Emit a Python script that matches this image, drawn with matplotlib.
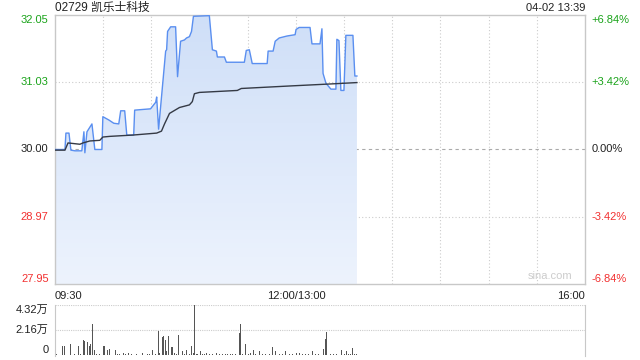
import numpy as np
import matplotlib
matplotlib.use('Agg')
import matplotlib.pyplot as plt

plt.rcParams['font.family'] = ['Liberation Sans', 'Noto Sans CJK SC', 'DejaVu Sans']

# ============================================================
# DADOS — minutos de pregão desde 09:30 (almoço removido)
# ============================================================
PRECO_BASE = 30.00
Y_MIN, Y_MAX = 27.95, 32.05

preco_min = [0, 6.2, 6.8, 8.7, 9.9, 12.4, 16.7, 18.0, 18.6, 19.9, 23.0, 24.8,
             29.2, 29.8, 33.5, 36.6, 39.7, 40.9, 43.4, 44.7, 49.0, 49.6, 59.5,
             61.4, 62.7, 63.3, 64.5, 68.9, 69.5, 70.1, 72.0, 75.1, 76.3, 78.2,
             80.6, 81.9, 83.7, 85.0, 86.2, 96.1, 98.0, 100.5, 101.1, 105.5,
             106.7, 117.9, 119.1, 121.0, 122.8, 132.1, 132.7, 135.8, 137.1,
             139.6, 144.5, 149.5, 150.1, 152.0, 158.8, 160.0, 165.0, 166.2,
             166.9, 168.7, 171.8, 174.9, 175.5, 176.8, 178.0, 179.9, 181.1,
             185.5, 186.7, 188.0]
preco = [30.00, 30.00, 30.25, 30.25, 29.99, 29.98, 29.98, 30.27, 29.95, 30.27,
         30.39, 30.00, 30.00, 30.50, 30.45, 30.40, 30.39, 30.59, 30.59, 30.22,
         30.22, 30.60, 30.62, 30.68, 30.72, 30.80, 30.31, 31.50, 31.52, 31.80,
         31.87, 31.87, 31.11, 31.65, 31.67, 31.70, 31.72, 31.80, 32.03, 32.04,
         31.52, 31.50, 31.41, 31.41, 31.33, 31.33, 31.51, 31.52, 31.31, 31.31,
         31.50, 31.50, 31.65, 31.70, 31.73, 31.75, 31.83, 31.86, 31.86, 31.61,
         31.61, 31.84, 31.16, 31.01, 30.92, 30.92, 31.68, 31.66, 30.90, 30.90,
         31.74, 31.74, 31.12, 31.12]

media_min = [0, 6.2, 8.1, 15.5, 17.4, 21.7, 27.9, 29.8, 34.1, 48.4, 63.3,
             66.3, 68.2, 71.3, 77.5, 83.7, 85.5, 86.8, 89.9, 113.5, 116.0,
             147.6, 172.4, 188.0]
media = [29.99, 29.99, 30.10, 30.08, 30.10, 30.13, 30.14, 30.19, 30.20, 30.22,
         30.25, 30.28, 30.39, 30.55, 30.64, 30.68, 30.73, 30.85, 30.87, 30.90,
         30.93, 30.97, 31.00, 31.02]

vol_min = [1.0, 2.5, 4.5, 6.2, 9.7, 12.4, 14.5, 16.0, 17.6, 18.2, 20.0, 21.3,
           22.3, 23.2, 24.4, 26.0, 27.5, 30.0, 31.0, 32.5, 34.1, 35.5, 37.4,
           39.0, 40.3, 42.4, 44.0, 45.5, 47.6, 49.8, 51.0, 52.3, 54.4, 57.3,
           59.0, 61.0, 62.7, 64.5, 65.1, 67.2, 67.8, 68.9, 69.7, 70.9, 72.4,
           73.0, 74.2, 75.5, 77.1, 79.2, 80.5, 82.1, 83.5, 85.2, 86.2, 87.0,
           87.9, 89.0, 90.4, 92.0, 93.1, 94.5, 96.0, 98.2, 100.7, 102.5, 104.4,
           106.0, 107.5, 109.0, 110.6, 112.5, 114.8, 115.6, 117.0, 118.9,
           120.5, 122.0, 123.6, 125.1, 127.2, 129.0, 131.3, 133.5, 135.4,
           137.1, 139.6, 141.5, 143.3, 145.8, 148.0, 150.3, 152.0, 154.0,
           156.1, 158.0, 160.2, 162.3, 164.0, 165.0, 166.9, 168.4, 169.3,
           171.6, 173.5, 175.5, 178.5, 180.0, 181.3, 182.5, 184.0, 185.0,
           186.5, 187.5]
vol = [800, 1000, 8000, 8000, 9800, 1000, 7800, 900, 13200, 11800, 11000, 7500,
       9800, 27000, 4600, 900, 1000, 7500, 7500, 4600, 5400, 900, 4600, 900,
       1000, 1800, 900, 1300, 1000, 5400, 800, 1000, 1300, 500, 900, 4000, 1000,
       20500, 1300, 15500, 16700, 12700, 3000, 16700, 6900, 6900, 1700, 900,
       17500, 3200, 900, 4600, 1000, 7500, 1300, 43200, 1000, 900, 3200, 900,
       1000, 1300, 900, 1000, 1300, 900, 1000, 800, 1000, 900, 1000, 800, 19000,
       26500, 900, 9800, 800, 1300, 4000, 1000, 3200, 900, 1000, 900, 6600,
       3200, 1000, 900, 3200, 1000, 900, 1800, 1800, 900, 1000, 900, 3200, 1000,
       900, 1800, 5200, 13800, 19600, 1000, 900, 1000, 4000, 900, 3200, 1000,
       900, 6000, 900, 1000]

VERDE = '#1aa31a'
VERMELHO = '#f23030'
AZUL = '#5a8ff0'
GRADE = '#cccccc'
BORDA = '#c8c8c8'
TEXTO = '#222222'
CJK = ['Liberation Sans', 'Noto Sans CJK SC']

# ============================================================
# FIGURA
# ============================================================
fig = plt.figure(figsize=(6.4, 3.6), dpi=100)
ax = fig.add_axes([55 / 640, 1 - 284 / 360, 530 / 640, 269 / 360])
axv = fig.add_axes([55 / 640, 1 - 356 / 360, 530 / 640, 51 / 360])

ax.set_xlim(0, 330)
ax.set_ylim(Y_MIN, Y_MAX)

# preenchimento em degradê sob a linha de preço
poly = ax.fill_between(preco_min, preco, Y_MIN, color='none', lw=0)
grad = np.linspace(0, 1, 256).reshape(-1, 1)
cmap = matplotlib.colors.LinearSegmentedColormap.from_list('g', ['#edf3fd', '#cfdff8'])
img = ax.imshow(grad, extent=[0, 330, Y_MIN, Y_MAX], aspect='auto', origin='lower',
                cmap=cmap, zorder=1)
img.set_clip_path(poly.get_paths()[0], transform=ax.transData)

ax.plot(preco_min, preco, color=AZUL, lw=1.0, zorder=3)
ax.plot(media_min, media, color='#353a45', lw=1.0, zorder=3)

# grade
for m in range(30, 330, 30):
    ax.axvline(m, color=GRADE, lw=0.8, ls=(0, (1, 2)), zorder=0.5)
for p in [31.03, 28.97]:
    ax.axhline(p, color=GRADE, lw=0.8, ls=(0, (1, 2)), zorder=0.5)
ax.axhline(PRECO_BASE, color='#aaaaaa', lw=0.8, ls=(0, (3, 3)), zorder=0.5)

ax.set_xticks([])
ax.set_yticks([])
for s in ax.spines.values():
    s.set_color(BORDA)
    s.set_linewidth(1.0)

# rótulos dos eixos
ticks_y = [32.05, 31.03, 30.00, 28.97, 27.95]
cores_y = [VERDE, VERDE, TEXTO, VERMELHO, VERMELHO]
pcts = ['+6.84%', '+3.42%', '0.00%', '-3.42%', '-6.84%']
for v, c, p in zip(ticks_y, cores_y, pcts):
    va = 'top' if v == Y_MAX else ('bottom' if v == Y_MIN else 'center')
    ax.text(-4, v, f'{v:.2f}', color=c, ha='right', va=va, fontsize=8, clip_on=False)
    ax.text(334, v, p, color=c, ha='left', va=va, fontsize=8, clip_on=False)

fig.text(55 / 640, 1 - 8 / 360, '02729 凯乐士科技', ha='left', va='center',
         fontsize=8.5, color=TEXTO, family=CJK)
fig.text(585 / 640, 1 - 8 / 360, '04-02 13:39', ha='right', va='center',
         fontsize=8, color=TEXTO)
ax.text(322, 27.99, 'sina.com', ha='right', va='bottom', fontsize=8, color='#cccccc')

ax.text(0, 27.84, '09:30', ha='left', va='top', fontsize=8, color=TEXTO)
ax.text(150, 27.84, '12:00/13:00', ha='center', va='top', fontsize=8, color=TEXTO)
ax.text(330, 27.84, '16:00', ha='right', va='top', fontsize=8, color=TEXTO)

# ============================================================
# VOLUME
# ============================================================
axv.set_xlim(0, 330)
axv.set_ylim(-900, 43200)
axv.bar(vol_min, vol, width=0.6, color='#555555', zorder=2)
axv.axhline(21600, color=GRADE, lw=0.8, ls=(0, (1, 1)), zorder=0.5)
axv.axhline(43200, color=GRADE, lw=0.8, ls=(0, (1, 1)), zorder=0.5)
axv.set_xticks([])
axv.set_yticks([])
for s in axv.spines.values():
    s.set_color(BORDA)
axv.spines['top'].set_visible(False)
axv.spines['bottom'].set_visible(False)
axv.text(-4, 43200, '4.32万', ha='right', va='top', fontsize=8, color=TEXTO, family=CJK)
axv.text(-4, 21600, '2.16万', ha='right', va='center', fontsize=8, color=TEXTO, family=CJK)
axv.text(-4, 0, '0', ha='right', va='bottom', fontsize=8, color=TEXTO)

fig.savefig('out.png', dpi=100)
